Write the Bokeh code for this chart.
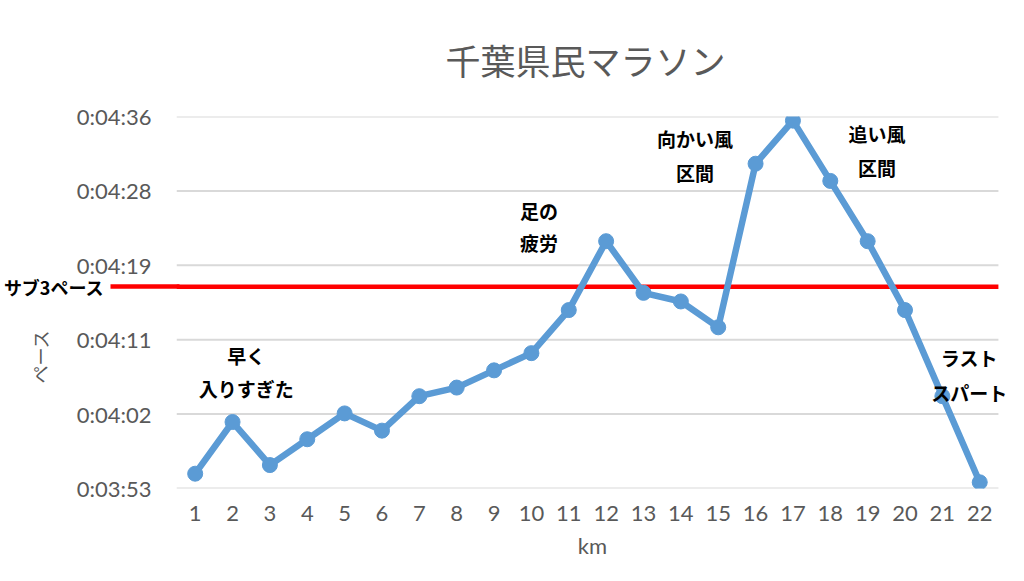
from bokeh.plotting import figure
from bokeh.models import Label, FixedTicker, Range1d, LinearAxis
from bokeh.embed import file_html
from bokeh.resources import INLINE

# km splits and pace per km (m:ss)
km = list(range(1, 23))
pace_str = ["3:55", "4:01", "3:56", "3:59", "4:02", "4:00", "4:04", "4:05", "4:07", "4:09", "4:14",
            "4:22", "4:16", "4:15", "4:12", "4:31", "4:36", "4:29", "4:22", "4:14", "4:04", "3:54"]
sub3_pace = 256.7  # seconds, red reference line

# Excel time axis ticks (seconds) and their labels
y_ticks = [233.28, 241.92, 250.56, 259.2, 267.84, 276.48]
y_tick_labels = ["0:03:53", "0:04:02", "0:04:11", "0:04:19", "0:04:28", "0:04:36"]

# callouts: (km, seconds, text)
notes = [
    (2.37, 248.7, "早く"), (2.37, 244.9, "入りすぎた"),
    (10.2, 265.6, "足の"), (10.2, 261.85, "疲労"),
    (14.38, 273.9, "向かい風"), (14.38, 270.0, "区間"),
    (19.25, 274.5, "追い風"), (19.25, 270.6, "区間"),
    (21.72, 248.5, "ラスト"), (21.72, 244.4, "スパート"),
]


def to_sec(s):
    m, sec = s.split(":")
    return int(m) * 60 + int(sec)


pace = [to_sec(s) for s in pace_str]

JP = "Noto Sans CJK JP"
NUM = "Lato"
GRAY = "#595959"
BLUE = "#5B9BD5"

x0, x1 = 0.5, 22.5

p = figure(width=1008, height=565, output_backend="svg", toolbar_location=None,
           x_range=Range1d(x0, 22.77), y_range=Range1d(y_ticks[0], y_ticks[-1]),
           min_border_left=176, min_border_right=0, min_border_top=116, min_border_bottom=77)
p.outline_line_color = None

p.title.text = "千葉県民マラソン"
p.title.align = "left"
p.title.offset = 269
p.title.standoff = 63
p.title.text_font = JP
p.title.text_font_size = "35px"
p.title.text_font_style = "normal"
p.title.text_color = GRAY

# x axis
p.xaxis.ticker = FixedTicker(ticks=km)
p.xaxis.axis_label = "km"
p.xaxis.axis_label_standoff = 8
p.xaxis.major_label_standoff = 17

# main y axis; a red minor tick drawn outwards carries the sub-3 line to its label
yax = p.yaxis[0]
yax.ticker = FixedTicker(ticks=y_ticks, minor_ticks=[sub3_pace])
yax.major_label_overrides = {t: l for t, l in zip(y_ticks, y_tick_labels)}
yax.major_label_standoff = 25
yax.minor_tick_line_color = "red"
yax.minor_tick_line_width = 4.5
yax.minor_tick_in = -66
yax.minor_tick_out = -3
yax.axis_label = "ペース" + "\u3000" * 6
yax.axis_label_standoff = 21

for ax in (p.xaxis[0], yax):
    ax.axis_line_color = None
    ax.major_tick_line_color = None
    ax.major_tick_in = 0
    ax.major_tick_out = 0
    ax.major_label_text_font = NUM
    ax.major_label_text_font_size = "22px"
    ax.major_label_text_color = GRAY
    ax.axis_label_text_font_style = "normal"
    ax.axis_label_text_color = GRAY
p.xaxis.minor_tick_line_color = None
p.xaxis.minor_tick_out = 0
p.xaxis.axis_label_text_font = NUM
p.xaxis.axis_label_text_font_size = "22px"
yax.axis_label_text_font = JP
yax.axis_label_text_font_size = "18px"

# label of the sub-3 line
sub3_axis = LinearAxis(ticker=FixedTicker(ticks=[sub3_pace]),
                       major_label_overrides={sub3_pace: "サブ3ペース"},
                       axis_line_color=None, major_tick_line_color=None,
                       major_tick_in=0, major_tick_out=0,
                       minor_tick_line_color=None, minor_tick_out=0,
                       major_label_standoff=-81,
                       major_label_text_font=JP, major_label_text_font_size="18px",
                       major_label_text_font_style="bold", major_label_text_color="black")
p.add_layout(sub3_axis, "left")

# gridlines over the category span only
p.xgrid.grid_line_color = None
p.ygrid.grid_line_color = None
p.segment(x0=x0, x1=x1, y0=y_ticks, y1=y_ticks, line_color="#D9D9D9", line_width=2)

# sub-3 reference line
p.segment(x0=x0, x1=x1, y0=sub3_pace, y1=sub3_pace, line_color="red", line_width=4.5)

# pace series
p.line(km, pace, line_color=BLUE, line_width=6.5)
p.scatter(km, pace, size=15, fill_color=BLUE, line_color=BLUE)

for x, y, t in notes:
    p.add_layout(Label(x=x, y=y, text=t, text_align="center", text_baseline="middle",
                       text_font=JP, text_font_size="19px", text_font_style="bold",
                       text_color="black"))

open("out.html", "w").write(file_html(p, INLINE))
